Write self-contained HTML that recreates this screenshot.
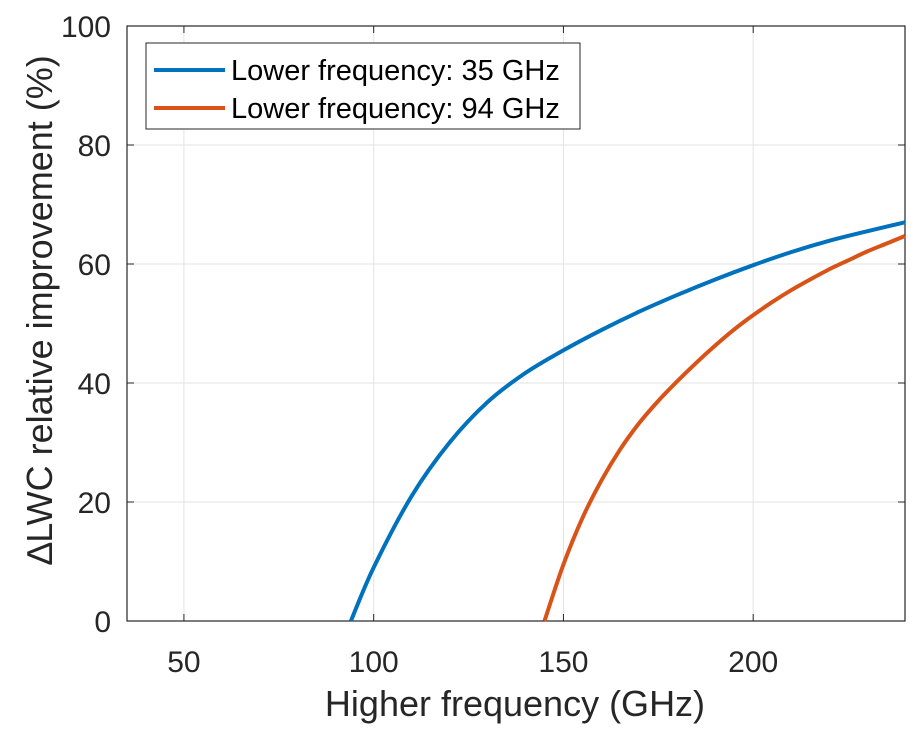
<!DOCTYPE html>
<html><head><meta charset="utf-8"><style>
body{margin:0;background:#fff;}
svg{display:block;font-family:"Liberation Sans",Arial,sans-serif;}
</style></head><body>
<svg id="chart" width="923" height="737"></svg>
<script>
const xTicks=[50,100,150,200];
const yTicks=[0,20,40,60,80,100];
const blueX=[94,100,110,120,130,140,150,160,170,180,190,200,210,220,230,240];
const blueY=[0,9,21,30,36.8,41.7,45.5,48.9,52,54.8,57.4,59.8,62,63.9,65.5,67];
const orangeX=[145,150,155,160,165,170,175,180,185,190,195,200,205,210,215,220,225,230,235,240];
const orangeY=[0,9.5,17.3,23.6,28.9,33.3,37,40.3,43.4,46.3,49,51.4,53.6,55.6,57.4,59.1,60.6,62.1,63.4,64.7];
const seriesNames=["Lower frequency: 35 GHz","Lower frequency: 94 GHz"];

const L=127,R=905,T=26,B=621,xmin=35,xmax=240,ymin=0,ymax=100;
const sx=v=>L+(v-xmin)/(xmax-xmin)*(R-L);
const sy=v=>B-(v-ymin)/(ymax-ymin)*(B-T);
const NS="http://www.w3.org/2000/svg";
const svg=document.getElementById('chart');
function mk(tag,attrs,parent){const e=document.createElementNS(NS,tag);for(const k in attrs)e.setAttribute(k,attrs[k]);(parent||svg).appendChild(e);return e;}

const grid=mk('g',{});


xTicks.forEach(v=>{
  mk('line',{x1:sx(v),x2:sx(v),y1:T,y2:B,stroke:'#e3e3e3','stroke-width':1},grid);
  mk('line',{x1:sx(v),x2:sx(v),y1:B,y2:B-7,stroke:'#262626','stroke-width':1},grid);
  mk('line',{x1:sx(v),x2:sx(v),y1:T,y2:T+7,stroke:'#262626','stroke-width':1},grid);
  const t=mk('text',{x:sx(v),y:B+51,'text-anchor':'middle','font-size':30,fill:'#262626'});
  t.textContent=v;
  
  
});
yTicks.forEach(v=>{
  mk('line',{x1:L,x2:R,y1:sy(v),y2:sy(v),stroke:'#e3e3e3','stroke-width':1},grid);
  mk('line',{x1:L,x2:L+7,y1:sy(v),y2:sy(v),stroke:'#262626','stroke-width':1},grid);
  mk('line',{x1:R,x2:R-7,y1:sy(v),y2:sy(v),stroke:'#262626','stroke-width':1},grid);
  const t=mk('text',{x:L-16,y:sy(v)+11,'text-anchor':'end','font-size':30,fill:'#262626'});
  t.textContent=v;
  
  
});
const box=mk('rect',{x:L,y:T,width:R-L,height:B-T,fill:'none',stroke:'#262626','stroke-width':1.2});



function pathFor(xs,ys){
  const p=xs.map((x,i)=>[sx(x),sy(ys[i])]);
  let d=`M${p[0][0]},${p[0][1]}`;
  for(let i=0;i<p.length-1;i++){
    const p0=p[Math.max(0,i-1)],p1=p[i],p2=p[i+1],p3=p[Math.min(p.length-1,i+2)];
    const c1=[p1[0]+(p2[0]-p0[0])/6,p1[1]+(p2[1]-p0[1])/6];
    const c2=[p2[0]-(p3[0]-p1[0])/6,p2[1]-(p3[1]-p1[1])/6];
    d+=`C${c1[0]},${c1[1]} ${c2[0]},${c2[1]} ${p2[0]},${p2[1]}`;
  }
  return d;
}
const l1=mk('path',{d:pathFor(blueX,blueY),fill:'none',stroke:'#0072bd','stroke-width':4});


const l2=mk('path',{d:pathFor(orangeX,orangeY),fill:'none',stroke:'#d95319','stroke-width':4});



const xl=mk('text',{x:515,y:716,'text-anchor':'middle','font-size':36,fill:'#262626'});
xl.textContent='Higher frequency (GHz)';


const yl=mk('text',{x:0,y:0,'text-anchor':'middle','font-size':36,fill:'#262626',transform:`translate(52,310) rotate(-90)`});
yl.textContent='\u2206LWC relative improvement (%)';



const lg=mk('g',{});


mk('rect',{x:146,y:43,width:434,height:86,fill:'#fff',stroke:'#262626','stroke-width':1},lg);
const cols=['#0072bd','#d95319'];
seriesNames.forEach((n,i)=>{
  const y=70+i*38;
  mk('line',{x1:154,x2:225,y1:y,y2:y,stroke:cols[i],'stroke-width':4},lg);
  const t=mk('text',{x:231,y:y+10,'font-size':29,fill:'#000'},lg);
  t.textContent=n;
  
  
});
</script>
</body></html>
